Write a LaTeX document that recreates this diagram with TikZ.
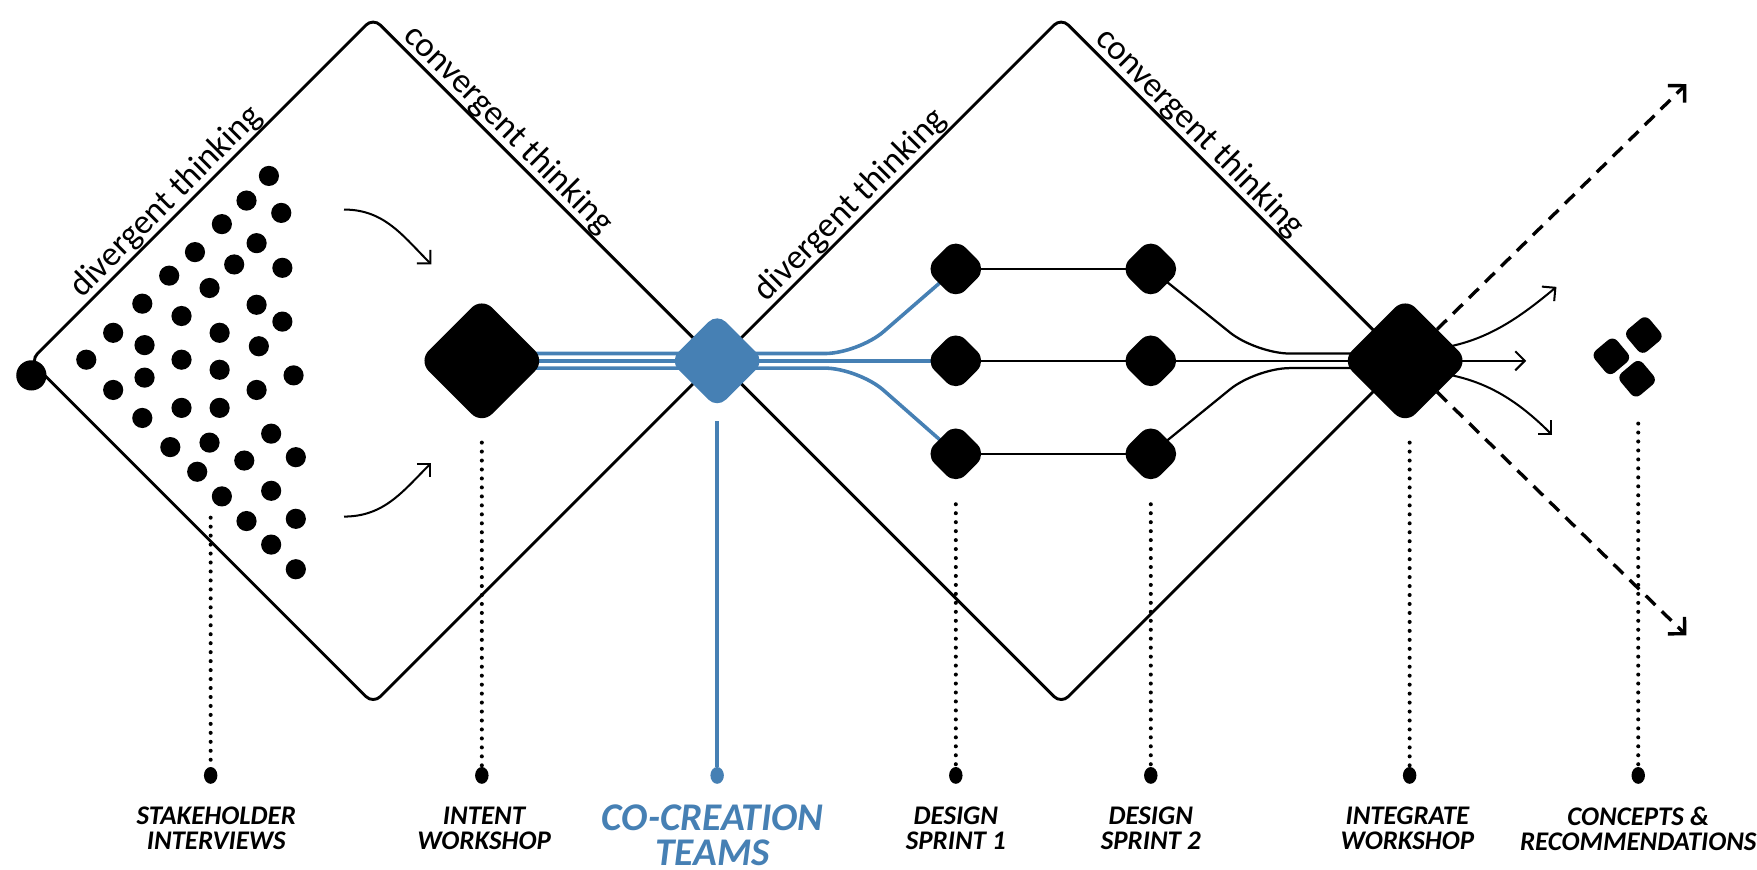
\documentclass[tikz,border=0pt]{standalone}
\usepackage{fontspec}
\setmainfont{Carlito}
\usetikzlibrary{arrows.meta,backgrounds,shapes.geometric}
\definecolor{teamblue}{RGB}{70,128,180}

\tikzset{
  phase/.style={line width=2.6pt, rounded corners=9pt},
  stage/.style={fill=black, rectangle, rotate=45, minimum size=80pt, rounded corners=13pt, inner sep=0pt},
  sprint/.style={fill=black, rectangle, rotate=45, minimum size=39pt, rounded corners=12pt, inner sep=0pt},
  chip/.style={fill=black, rectangle, rotate=40, minimum size=26pt, rounded corners=6pt, inner sep=0pt},
  enddot/.style={fill=black, ellipse, minimum width=12pt, minimum height=15pt, inner sep=0pt},
  dropline/.style={line width=3.6pt, line cap=round, dash pattern=on 0pt off 8pt},
  blueline/.style={teamblue, line width=3.2pt},
  wire/.style={line width=2pt},
  thinarrow/.style={line width=1.8pt, -{Straight Barb[angle=90:12pt]}},
  nextarrow/.style={line width=3pt, dash pattern=on 12pt off 8pt, -{Straight Barb[angle=90:15pt]}},
  steplabel/.style={anchor=north, align=center, inner sep=0pt, font={\fontsize{24}{22}\selectfont\bfseries\itshape}},
  thinking/.style={sloped, above, inner sep=1pt, font={\fontsize{31}{36}\selectfont}}
}

\begin{document}
\begin{tikzpicture}[x=1pt, y=1pt]
  \useasboundingbox (0,0) rectangle (1568,-776);
  % corners of the two phases
  \coordinate (aL) at (27,-322);
  \coordinate (aT) at (333,-16);
  \coordinate (aR) at (639,-322);
  \coordinate (aB) at (333,-628);
  \coordinate (bL) at (641,-322);
  \coordinate (bT) at (947,-16);
  \coordinate (bR) at (1253,-322);
  \coordinate (bB) at (947,-628);

  % nodes
  \node[fill=black, circle, minimum size=27pt, inner sep=0pt] (start) at (28,-335) {};
  \node[stage] (intent) at (430,-322) {};
  \node[stage, fill=teamblue, minimum size=60pt, rounded corners=11pt] (cocreate) at (640,-322) {};
  \node[sprint] (sA1) at (853,-240) {};
  \node[sprint] (sA2) at (853,-322) {};
  \node[sprint] (sA3) at (853,-405) {};
  \node[sprint] (sB1) at (1027,-240) {};
  \node[sprint] (sB2) at (1027,-322) {};
  \node[sprint] (sB3) at (1027,-405) {};
  \node[stage] (integ) at (1254,-322) {};
  \node[chip] (cA) at (1438,-318) {};
  \node[chip] (cB) at (1467,-299) {};
  \node[chip] (cC) at (1461,-338) {};

  % ideas
  \foreach \x/\y in {240/157, 220/179, 251/190, 198/200, 229/217, 174/225, 209/236, 252/239,
                     151/246, 187/257, 127/271, 229/272, 162/282, 252/287, 101/297, 196/297,
                     129/308, 231/309, 77/321, 162/321, 196/330, 129/337, 262/335, 101/348,
                     229/348, 162/364, 196/364, 127/373, 242/387, 152/399, 187/395, 218/411,
                     264/408, 176/421, 198/443, 242/438, 220/465, 264/463, 242/486, 264/508}
    \fill (\x,-\y) circle (9pt);

  % free ends
  \coordinate (inA0) at (307,-187);
  \coordinate (inA1) at (385,-236);
  \coordinate (inB0) at (307,-461);
  \coordinate (inB1) at (385,-413);
  \coordinate (outA) at (1389,-256);
  \coordinate (outB) at (1362,-322);
  \coordinate (outC) at (1385,-388);
  \coordinate (nextA) at (1505,-75);
  \coordinate (nextB) at (1505,-567);

  % bottom dots
  \node[enddot] (dStake) at (188,-692) {};
  \node[enddot] (dIntent) at (430,-692) {};
  \node[enddot, fill=teamblue] (dCo) at (640,-692) {};
  \node[enddot] (dSprintA) at (853,-692) {};
  \node[enddot] (dSprintB) at (1027,-692) {};
  \node[enddot] (dInteg) at (1258,-692) {};
  \node[enddot] (dConcept) at (1462,-692) {};
  \coordinate (tStake) at (188,-462);
  \coordinate (tIntent) at (430,-395);
  \coordinate (tCo) at (640,-376);
  \coordinate (tSprintA) at (853,-450);
  \coordinate (tSprintB) at (1027,-450);
  \coordinate (tInteg) at (1258,-395);
  \coordinate (tConcept) at (1462,-378);

  % labels
  \path (aL) -- (aT) node[thinking, pos=0.43] (tA1) {divergent thinking};
  \path (aT) -- (aR) node[thinking, pos=0.36] (tA2) {convergent thinking};
  \path (bL) -- (bT) node[thinking, pos=0.42] (tB1) {divergent thinking};
  \path (bT) -- (bR) node[thinking, pos=0.37] (tB2) {convergent thinking};
  \node[steplabel] (lStake) at (193,-720) {STAKEHOLDER\\INTERVIEWS};
  \node[steplabel] (lIntent) at (432,-720) {INTENT\\WORKSHOP};
  \node[steplabel, text=teamblue, font={\fontsize{35}{31}\selectfont\bfseries\itshape}] (lCo) at (636,-718) {CO-CREATION\\TEAMS};
  \node[steplabel] (lSprintA) at (853,-720) {DESIGN\\SPRINT 1};
  \node[steplabel] (lSprintB) at (1027,-720) {DESIGN\\SPRINT 2};
  \node[steplabel] (lInteg) at (1256,-720) {INTEGRATE\\WORKSHOP};
  \node[steplabel] (lConcept) at (1462,-720) {CONCEPTS \&\\RECOMMENDATIONS};

  % edges
  \begin{scope}[on background layer]
    \draw[phase] (aL) -- (aT) -- (aR) -- (aB) -- cycle;
    \draw[phase] (bL) -- (bT) -- (bR) -- (bB) -- cycle;
    \draw[blueline] (intent.center) -- (sA2.center);
    \draw[blueline, rounded corners=30pt] (intent.center) ++(0,6.5) -- (766,-315.5) -- (sA1.center);
    \draw[blueline, rounded corners=30pt] (intent.center) ++(0,-6.5) -- (766,-328.5) -- (sA3.center);
    \draw[wire] (sA1.center) -- (sB1.center) (sA3.center) -- (sB3.center);
    \draw[wire] (sA2.center) -- (integ.center);
    \draw[wire, rounded corners=30pt] (integ.center) ++(0,6.5) -- (1121,-315.5) -- (sB1.center);
    \draw[wire, rounded corners=30pt] (integ.center) ++(0,-6.5) -- (1121,-328.5) -- (sB3.center);
    \draw[thinarrow] (integ.center) ++(0,9) to[out=0, in=-140] (outA);
    \draw[thinarrow] (integ.center) -- (outB);
    \draw[thinarrow] (integ.center) ++(0,-9) to[out=0, in=135] (outC);
    \draw[nextarrow] (integ.center) -- (nextA);
    \draw[nextarrow] (integ.center) -- (nextB);
  \end{scope}
  \draw[thinarrow] (inA0) to[out=0, in=135] (inA1);
  \draw[thinarrow] (inB0) to[out=0, in=-135] (inB1);
  \draw[dropline] (tStake) -- (dStake) (tIntent) -- (dIntent) (tSprintA) -- (dSprintA);
  \draw[dropline] (tSprintB) -- (dSprintB) (tInteg) -- (dInteg) (tConcept) -- (dConcept);
  \draw[teamblue, line width=3pt] (tCo) -- (dCo);
\end{tikzpicture}
\end{document}
